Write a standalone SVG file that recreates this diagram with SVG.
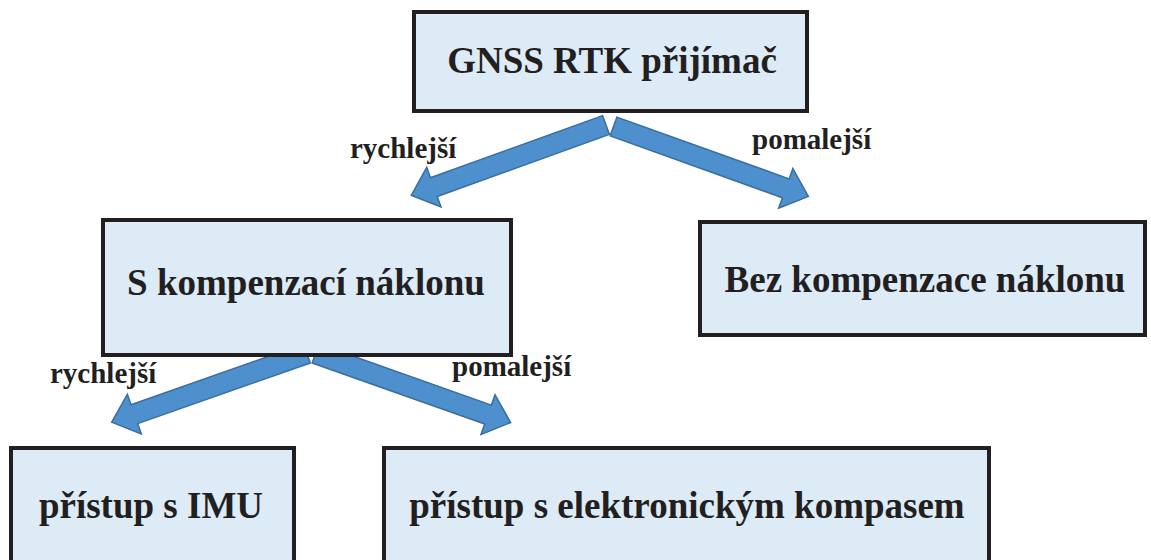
<svg xmlns="http://www.w3.org/2000/svg" width="1151" height="560" viewBox="0 0 1151 560">
<style>
.box{fill:#DDEBF7;stroke:#231F20;stroke-width:4}
.t{font-family:'Liberation Serif',serif;font-weight:700;font-size:37px;fill:#231F20;text-anchor:middle}
.l{font-family:'Liberation Serif',serif;font-weight:700;font-size:29px;fill:#231F20}
.arr{fill:#4E8FCD;stroke:#3A6E9E;stroke-width:1.5;stroke-linejoin:miter}
</style>
<defs>
<path id="ar" d="M0,-10 H183 V-21 L207,0 L183,21 V10 H0 Z"/>
</defs>
<rect width="1151" height="560" fill="#FFFFFF"/>
<g id="connectors">
<use href="#ar" class="arr" transform="translate(606,125) rotate(160.16)"/>
<use href="#ar" class="arr" transform="translate(613.5,126.5) rotate(19.74)"/>
<use href="#ar" class="arr" transform="translate(307,353.5) rotate(160.64)"/>
<use href="#ar" class="arr" transform="translate(315.5,353.5) rotate(19.48)"/>
<text class="l" x="350" y="158" font-family="Liberation Serif">rychlejší</text>
<text class="l" x="752" y="149" font-family="Liberation Serif">pomalejší</text>
<text class="l" x="50" y="383" font-family="Liberation Serif">rychlejší</text>
<text class="l" x="452" y="376" font-family="Liberation Serif">pomalejší</text>
</g>
<g id="gnss">
<rect class="box" x="414" y="12" width="393" height="99"/>
<text class="t" x="612" y="73" font-family="Liberation Serif">GNSS RTK přijímač</text>
</g>
<g id="s-komp">
<rect class="box" x="103" y="220" width="408" height="135"/>
<text class="t" x="306" y="295" font-family="Liberation Serif">S kompenzací náklonu</text>
</g>
<g id="bez-komp">
<rect class="box" x="700" y="222" width="445" height="113"/>
<text class="t" x="925" y="292" font-family="Liberation Serif">Bez kompenzace náklonu</text>
</g>
<g id="imu">
<rect class="box" x="11" y="448" width="283" height="120"/>
<text class="t" x="151" y="518" font-family="Liberation Serif">přístup s IMU</text>
</g>
<g id="kompas">
<rect class="box" x="384" y="448" width="605" height="120"/>
<text class="t" x="687" y="518" font-family="Liberation Serif">přístup s elektronickým kompasem</text>
</g>
</svg>
